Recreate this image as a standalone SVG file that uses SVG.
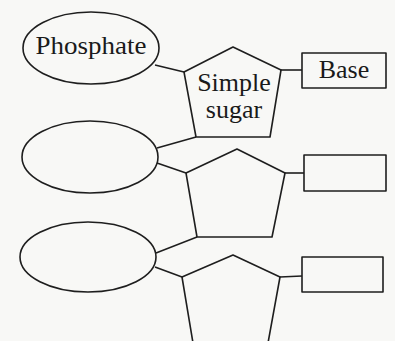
<svg xmlns="http://www.w3.org/2000/svg" width="395" height="341" viewBox="0 0 395 341">
<style>
.s{fill:none;stroke:#1e1e1e;stroke-width:1.6;stroke-linejoin:round}
.t{font-family:"Liberation Serif","Times New Roman",serif;font-size:26px;fill:#1a1a1a;text-anchor:middle}
</style>
<rect width="395" height="341" fill="#f8f8f6"/>
<g id="connectors" class="s">
<line x1="155" y1="65" x2="184" y2="72"/>
<line x1="281" y1="70" x2="302" y2="70"/>
<line x1="157" y1="148" x2="196" y2="137"/>
<line x1="157" y1="163" x2="186" y2="173"/>
<line x1="285" y1="173" x2="304" y2="173"/>
<line x1="156" y1="253" x2="197" y2="237"/>
<line x1="155" y1="267" x2="182" y2="277"/>
<line x1="280" y1="277" x2="302" y2="276"/>
</g>
<g id="phosphate1">
<ellipse class="s" cx="91" cy="48" rx="68" ry="36"/>
<text class="t" x="91" y="54" textLength="111" lengthAdjust="spacingAndGlyphs">Phosphate</text>
</g>
<g id="sugar1">
<polygon class="s" points="233,47 281,70 270,137 196,137 184,72"/>
<text class="t" x="234" y="91">Simple</text>
<text class="t" x="234" y="118">sugar</text>
</g>
<g id="base1">
<rect class="s" x="302" y="53" width="84" height="35"/>
<text class="t" x="344" y="78">Base</text>
</g>
<g id="phosphate2">
<ellipse class="s" cx="90" cy="157" rx="68" ry="36"/>
</g>
<g id="sugar2">
<polygon class="s" points="237,149 285,173 272,237 197,237 186,173"/>
</g>
<g id="base2">
<rect class="s" x="304" y="155" width="82" height="36"/>
</g>
<g id="phosphate3">
<ellipse class="s" cx="88" cy="257" rx="68" ry="35"/>
</g>
<g id="sugar3">
<polygon class="s" points="233,255 280,277 268,343 193,343 182,277"/>
</g>
<g id="base3">
<rect class="s" x="302" y="257" width="81" height="35"/>
</g>
</svg>
